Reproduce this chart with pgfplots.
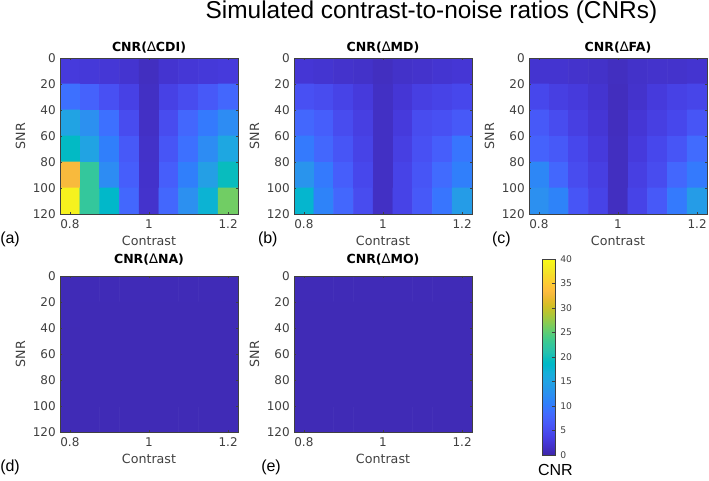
\documentclass[border=0pt]{standalone}
\usepackage{fontspec}
\setmainfont{DejaVu Sans}
\newfontfamily\arialfont{Liberation Sans}
\usepackage{pgfplots}
\pgfplotsset{compat=1.18}
\definecolor{axgray}{HTML}{404040}
\newcommand{\tri}{{\mdseries\fontsize{10}{11}\selectfont ∆}}

\pgfplotsset{
  colormap={parula}{
rgb=(0.2422,0.1504,0.6603) rgb=(0.2504,0.1650,0.7076) rgb=(0.2578,0.1818,0.7511) rgb=(0.2647,0.1978,0.7952)
rgb=(0.2706,0.2147,0.8364) rgb=(0.2751,0.2342,0.8710) rgb=(0.2783,0.2559,0.8991) rgb=(0.2803,0.2782,0.9221)
rgb=(0.2813,0.3006,0.9414) rgb=(0.2810,0.3228,0.9579) rgb=(0.2795,0.3447,0.9717) rgb=(0.2760,0.3667,0.9829)
rgb=(0.2699,0.3892,0.9906) rgb=(0.2602,0.4123,0.9952) rgb=(0.2440,0.4358,0.9988) rgb=(0.2206,0.4603,0.9973)
rgb=(0.1963,0.4847,0.9892) rgb=(0.1834,0.5074,0.9798) rgb=(0.1786,0.5289,0.9682) rgb=(0.1764,0.5499,0.9520)
rgb=(0.1687,0.5703,0.9359) rgb=(0.1540,0.5902,0.9218) rgb=(0.1460,0.6091,0.9079) rgb=(0.1380,0.6276,0.8973)
rgb=(0.1248,0.6459,0.8883) rgb=(0.1113,0.6635,0.8763) rgb=(0.0952,0.6798,0.8598) rgb=(0.0689,0.6948,0.8394)
rgb=(0.0297,0.7082,0.8163) rgb=(0.0036,0.7203,0.7917) rgb=(0.0067,0.7312,0.7660) rgb=(0.0433,0.7411,0.7394)
rgb=(0.0964,0.7500,0.7120) rgb=(0.1408,0.7584,0.6842) rgb=(0.1717,0.7670,0.6554) rgb=(0.1938,0.7758,0.6251)
rgb=(0.2161,0.7843,0.5923) rgb=(0.2470,0.7918,0.5567) rgb=(0.2906,0.7973,0.5188) rgb=(0.3406,0.8008,0.4789)
rgb=(0.3909,0.8029,0.4354) rgb=(0.4456,0.8024,0.3909) rgb=(0.5044,0.7993,0.3480) rgb=(0.5616,0.7942,0.3045)
rgb=(0.6174,0.7876,0.2612) rgb=(0.6720,0.7793,0.2227) rgb=(0.7242,0.7698,0.1910) rgb=(0.7738,0.7598,0.1646)
rgb=(0.8203,0.7498,0.1535) rgb=(0.8634,0.7406,0.1596) rgb=(0.9035,0.7330,0.1774) rgb=(0.9393,0.7288,0.2100)
rgb=(0.9728,0.7298,0.2394) rgb=(0.9956,0.7434,0.2371) rgb=(0.9970,0.7659,0.2199) rgb=(0.9952,0.7893,0.2028)
rgb=(0.9892,0.8136,0.1885) rgb=(0.9786,0.8386,0.1766) rgb=(0.9676,0.8639,0.1643) rgb=(0.9610,0.8890,0.1537)
rgb=(0.9597,0.9135,0.1423) rgb=(0.9628,0.9373,0.1265) rgb=(0.9691,0.9606,0.1064) rgb=(0.9769,0.9839,0.0805)
  },
  hm/.style={
    width=133.5pt, height=117pt, scale only axis,
    xmin=0.775, xmax=1.225, ymin=0, ymax=120, y dir=reverse,
    xtick={0.8,1,1.2}, xticklabels={0.8,1,1.2},
    ytick={0,20,40,60,80,100,120}, yticklabels={0,20,40,60,80,100,120},
    tick align=inside, major tick length=1.8pt,
    axis line style={axgray, line width=0.5pt},
    every tick/.style={axgray, line width=0.4pt},
    ticklabel style={font=\fontsize{9}{10}\selectfont, text=axgray},
    xticklabel style={anchor=base, yshift=-11pt},
    yticklabel style={anchor=east, inner sep=0pt, xshift=-3pt},
    xlabel=Contrast, ylabel=SNR,
    label style={font=\fontsize{9.5}{11}\selectfont, text=axgray},
    xlabel style={at={(axis description cs:0.5,-0.1987)}, anchor=base},
    ylabel style={at={(axis description cs:-0.1966,0.5)}, anchor=base},
    point meta min=0, point meta max=40,
    colormap name=parula,
    axis on top,
  },
  hmplot/.style={matrix plot*, mesh/cols=9, point meta=explicit},
}
\tikzset{ptitle/.style={font=\bfseries\fontsize{9.4}{11}\selectfont, anchor=base, inner sep=0pt}}

\pgfplotstableread{
x y c
0.80 10 3.0
0.85 10 2.8
0.90 10 2.6
0.95 10 2.2
1.00 10 1.3
1.05 10 2.2
1.10 10 2.6
1.15 10 2.8
1.20 10 3.0
0.80 30 9.0
0.85 30 7.5
0.90 30 5.5
0.95 30 3.8
1.00 30 1.5
1.05 30 3.8
1.10 30 5.0
1.15 30 6.5
1.20 30 8.0
0.80 50 15.0
0.85 50 12.5
0.90 50 9.0
0.95 50 5.0
1.00 50 1.6
1.05 50 5.0
1.10 50 8.0
1.15 50 10.0
1.20 50 12.0
0.80 70 19.0
0.85 70 15.0
0.90 70 10.5
0.95 70 6.5
1.00 70 1.8
1.05 70 6.0
1.10 70 9.0
1.15 70 12.0
1.20 70 15.5
0.80 90 33.0
0.85 90 22.5
0.90 90 12.0
0.95 90 7.0
1.00 90 1.9
1.05 90 7.0
1.10 90 10.5
1.15 90 14.5
1.20 90 19.5
0.80 110 39.0
0.85 110 22.5
0.90 110 18.5
0.95 110 8.0
1.00 110 2.0
1.05 110 8.0
1.10 110 12.5
1.15 110 17.5
1.20 110 26.0
}\dataCDI

\pgfplotstableread{
x y c
0.80 10 2.5
0.85 10 2.3
0.90 10 2.0
0.95 10 1.8
1.00 10 1.3
1.05 10 1.8
1.10 10 2.0
1.15 10 2.3
1.20 10 2.5
0.80 30 5.5
0.85 30 5.0
0.90 30 4.0
0.95 30 3.0
1.00 30 1.5
1.05 30 2.5
1.10 30 3.5
1.15 30 4.0
1.20 30 4.5
0.80 50 8.0
0.85 50 7.0
0.90 50 5.0
0.95 50 3.5
1.00 50 1.5
1.05 50 3.0
1.10 50 5.0
1.15 50 5.5
1.20 50 6.5
0.80 70 10.0
0.85 70 8.0
0.90 70 6.0
0.95 70 4.0
1.00 70 1.5
1.05 70 3.5
1.10 70 5.5
1.15 70 7.0
1.20 70 9.5
0.80 90 13.0
0.85 90 10.0
0.90 90 7.0
0.95 90 4.5
1.00 90 1.5
1.05 90 4.0
1.10 90 6.0
1.15 90 8.5
1.20 90 10.5
0.80 110 18.0
0.85 110 11.0
0.90 110 8.0
0.95 110 5.0
1.00 110 1.5
1.05 110 4.0
1.10 110 6.5
1.15 110 9.5
1.20 110 14.0
}\dataMD

\pgfplotstableread{
x y c
0.80 10 2.2
0.85 10 2.2
0.90 10 2.0
0.95 10 1.8
1.00 10 1.3
1.05 10 1.8
1.10 10 2.0
1.15 10 2.0
1.20 10 2.2
0.80 30 4.5
0.85 30 3.5
0.90 30 3.0
0.95 30 2.2
1.00 30 1.2
1.05 30 2.0
1.10 30 3.0
1.15 30 3.8
1.20 30 4.2
0.80 50 6.5
0.85 50 5.0
0.90 50 3.5
0.95 50 2.5
1.00 50 1.2
1.05 50 2.5
1.10 50 3.5
1.15 50 4.5
1.20 50 6.0
0.80 70 7.5
0.85 70 6.5
0.90 70 4.5
0.95 70 3.0
1.00 70 1.3
1.05 70 3.0
1.10 70 4.5
1.15 70 6.0
1.20 70 8.5
0.80 90 11.5
0.85 90 8.0
0.90 90 5.0
0.95 90 3.5
1.00 90 1.3
1.05 90 3.5
1.10 90 5.0
1.15 90 8.0
1.20 90 10.0
0.80 110 12.5
0.85 110 11.0
0.90 110 6.0
0.95 110 4.0
1.00 110 1.3
1.05 110 4.0
1.10 110 6.5
1.15 110 10.0
1.20 110 14.0
}\dataFA

\pgfplotstableread{
x y c
0.80 10 0.8
0.85 10 0.8
0.90 10 0.8
0.95 10 0.8
1.00 10 0.8
1.05 10 0.8
1.10 10 0.8
1.15 10 0.8
1.20 10 0.8
0.80 30 0.8
0.85 30 0.7
0.90 30 0.7
0.95 30 0.7
1.00 30 0.7
1.05 30 0.7
1.10 30 0.7
1.15 30 0.7
1.20 30 0.7
0.80 50 0.7
0.85 50 0.7
0.90 50 0.7
0.95 50 0.7
1.00 50 0.7
1.05 50 0.7
1.10 50 0.7
1.15 50 0.7
1.20 50 0.7
0.80 70 0.7
0.85 70 0.7
0.90 70 0.7
0.95 70 0.7
1.00 70 0.7
1.05 70 0.7
1.10 70 0.7
1.15 70 0.7
1.20 70 0.7
0.80 90 0.7
0.85 90 0.7
0.90 90 0.7
0.95 90 0.7
1.00 90 0.7
1.05 90 0.7
1.10 90 0.7
1.15 90 0.7
1.20 90 0.7
0.80 110 0.7
0.85 110 0.7
0.90 110 0.7
0.95 110 0.7
1.00 110 0.7
1.05 110 0.7
1.10 110 0.7
1.15 110 0.7
1.20 110 0.7
}\dataNA

\pgfplotstableread{
x y c
0.80 10 0.8
0.85 10 0.8
0.90 10 0.8
0.95 10 0.8
1.00 10 0.8
1.05 10 0.8
1.10 10 0.8
1.15 10 0.8
1.20 10 0.8
0.80 30 0.7
0.85 30 0.7
0.90 30 0.7
0.95 30 0.7
1.00 30 0.7
1.05 30 0.7
1.10 30 0.7
1.15 30 0.7
1.20 30 0.7
0.80 50 0.7
0.85 50 0.7
0.90 50 0.7
0.95 50 0.7
1.00 50 0.7
1.05 50 0.7
1.10 50 0.7
1.15 50 0.7
1.20 50 0.7
0.80 70 0.7
0.85 70 0.7
0.90 70 0.7
0.95 70 0.7
1.00 70 0.7
1.05 70 0.7
1.10 70 0.7
1.15 70 0.7
1.20 70 0.7
0.80 90 0.7
0.85 90 0.7
0.90 90 0.7
0.95 90 0.7
1.00 90 0.7
1.05 90 0.7
1.10 90 0.7
1.15 90 0.7
1.20 90 0.7
0.80 110 0.7
0.85 110 0.7
0.90 110 0.7
0.95 110 0.7
1.00 110 0.7
1.05 110 0.7
1.10 110 0.7
1.15 110 0.7
1.20 110 0.7
}\dataMO

\pgfplotstableread{
x y
0 0
1 0
0 40
1 40
}\dataBar

\begin{document}
\begin{tikzpicture}
\path[use as bounding box] (0,0) rectangle (531.75pt,-360pt);

\node[font=\arialfont\fontsize{18.3}{20}\selectfont, anchor=base] at (323.6pt,-13.7pt) {Simulated contrast-to-noise ratios (CNRs)};

\begin{axis}[hm, at={(45pt,-160.5pt)}, anchor=south west]
\addplot[hmplot] table[meta=c] {\dataCDI};
\end{axis}

\begin{axis}[hm, at={(220.5pt,-160.5pt)}, anchor=south west]
\addplot[hmplot] table[meta=c] {\dataMD};
\end{axis}

\begin{axis}[hm, at={(396.75pt,-160.5pt)}, anchor=south west]
\addplot[hmplot] table[meta=c] {\dataFA};
\end{axis}

\begin{axis}[hm, at={(45pt,-324pt)}, anchor=south west]
\addplot[hmplot] table[meta=c] {\dataNA};
\end{axis}

\begin{axis}[hm, at={(220.5pt,-324pt)}, anchor=south west]
\addplot[hmplot] table[meta=c] {\dataMO};
\end{axis}

\node[ptitle] at (111.75pt,-38.8pt) {CNR(\tri CDI)};
\node[ptitle] at (287.25pt,-38.8pt) {CNR(\tri MD)};
\node[ptitle] at (463.5pt,-38.8pt) {CNR(\tri FA)};
\node[ptitle] at (111.75pt,-197.5pt) {CNR(\tri NA)};
\node[ptitle] at (287.25pt,-197.5pt) {CNR(\tri MO)};

\begin{axis}[at={(406.5pt,-341.25pt)}, anchor=south west, width=9.75pt, height=147pt, scale only axis,
  xmin=0, xmax=1, ymin=0, ymax=40, xtick=\empty,
  ytick={0,5,10,15,20,25,30,35,40}, yticklabels={0,5,10,15,20,25,30,35,40},
  ytick pos=right, yticklabel pos=right, tick align=inside, major tick length=2pt,
  axis line style={axgray, line width=0.5pt},
  every tick/.style={axgray, line width=0.4pt},
  yticklabel style={font=\fontsize{6.9}{8}\selectfont, text=axgray, anchor=west, inner sep=0pt, xshift=3.75pt},
  colormap name=parula, point meta min=0, point meta max=40, axis on top]
\addplot[surf, shader=interp, mesh/cols=2, point meta=y] table {\dataBar};
\end{axis}

\node[font=\arialfont\fontsize{12}{14}\selectfont, anchor=base] at (416.5pt,-356.8pt) {CNR};

\node[font=\arialfont\fontsize{12}{14}\selectfont, anchor=base west, inner sep=0pt] at (0pt,-182.5pt) {(a)};
\node[font=\arialfont\fontsize{12}{14}\selectfont, anchor=base west, inner sep=0pt] at (193.3pt,-182.5pt) {(b)};
\node[font=\arialfont\fontsize{12}{14}\selectfont, anchor=base west, inner sep=0pt] at (368.8pt,-182.5pt) {(c)};
\node[font=\arialfont\fontsize{12}{14}\selectfont, anchor=base west, inner sep=0pt] at (0pt,-353.7pt) {(d)};
\node[font=\arialfont\fontsize{12}{14}\selectfont, anchor=base west, inner sep=0pt] at (195.75pt,-353.7pt) {(e)};
\end{tikzpicture}
\end{document}
